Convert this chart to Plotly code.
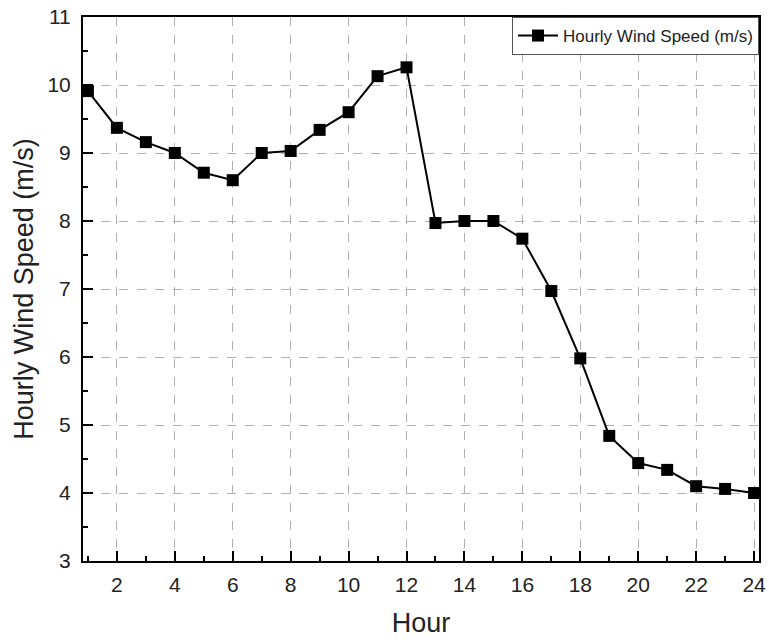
import plotly.graph_objects as go

hours = list(range(1, 25))
wind_speed = [9.91, 9.37, 9.16, 9.00, 8.71, 8.60, 9.00, 9.03, 9.34, 9.60, 10.13, 10.26,
              7.97, 8.00, 8.00, 7.74, 6.97, 5.98, 4.84, 4.44, 4.34, 4.10, 4.06, 4.00]
x_ticks = list(range(2, 25, 2))
y_ticks = list(range(3, 12))

fig = go.Figure()
fig.add_trace(go.Scatter(
    x=hours, y=wind_speed, mode="lines+markers", name="Hourly Wind Speed (m/s)",
    line=dict(color="black", width=2),
    marker=dict(symbol="square", size=12, color="black"),
))

axis_common = dict(
    showline=True, linecolor="black", linewidth=2, mirror=True,
    ticks="inside", tickcolor="black", tickwidth=2, ticklen=10,
    showgrid=True, gridcolor="#b0b0b0", griddash="dash", gridwidth=1,
    zeroline=False, automargin=False,
    tickfont=dict(family="Liberation Sans, Arial", size=21, color="#222"),
    title_font=dict(family="Liberation Sans, Arial", size=27, color="#222"),
)

fig.update_xaxes(
    range=[0.83, 24.17], tickvals=x_ticks,
    title=dict(text="Hour", standoff=18),
    ticklabelstandoff=4,
    minor=dict(ticks="inside", ticklen=5, tickwidth=2, tickcolor="black", dtick=1, tick0=1, showgrid=False),
    **axis_common,
)
fig.update_yaxes(
    range=[3, 11], tickvals=y_ticks,
    title=dict(text="Hourly Wind Speed (m/s)", standoff=6),
    ticklabelstandoff=6,
    minor=dict(ticks="inside", ticklen=5, tickwidth=2, tickcolor="black", dtick=0.5, tick0=3, showgrid=False),
    **axis_common,
)

fig.update_layout(
    width=769, height=643,
    margin=dict(l=83, r=10, t=17, b=82),
    paper_bgcolor="white", plot_bgcolor="white",
    showlegend=True,
    legend=dict(x=1, y=1, xanchor="right", yanchor="top",
                bordercolor="#555", borderwidth=1, bgcolor="white",
                font=dict(family="Liberation Sans, Arial", size=17, color="#222"),
                itemwidth=40, tracegroupgap=0),
)

fig.write_html("out.html")
